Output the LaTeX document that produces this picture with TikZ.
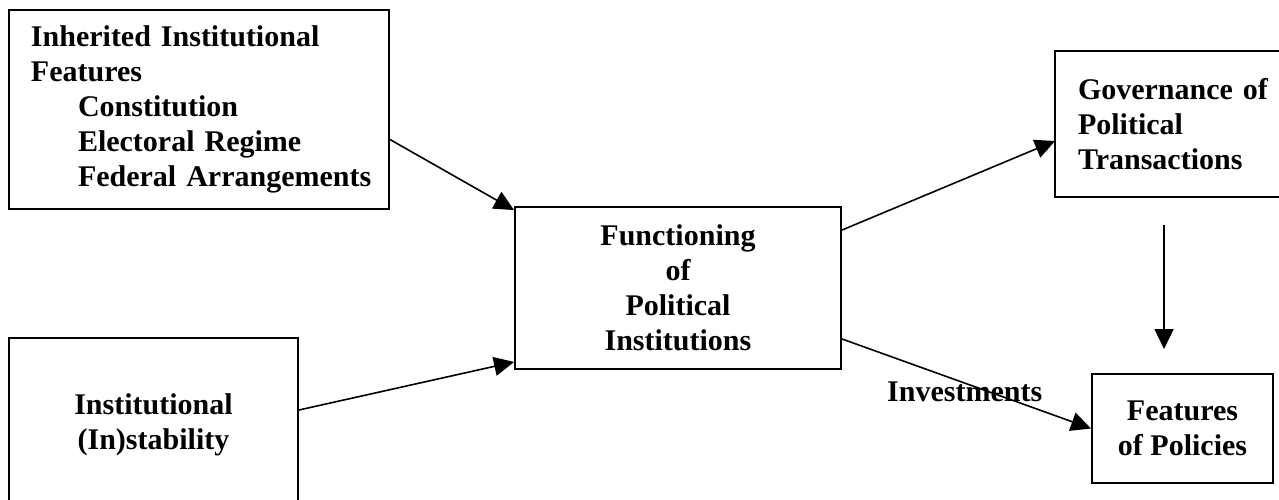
\documentclass[tikz,border=0pt]{standalone}
\usepackage{fontspec}
\setmainfont{Liberation Serif}
\usetikzlibrary{arrows.meta,calc}
\tikzset{
  box/.style={draw=black, line width=1.9pt, rectangle, inner sep=0pt,
    font=\bfseries\fontsize{30}{35}\selectfont},
  conn/.style={line width=1.6pt, -{Triangle[length=20pt,width=19pt]}},
  lbl/.style={font=\bfseries\fontsize{30}{35}\selectfont, inner sep=0pt}
}
\begin{document}
\begin{tikzpicture}[x=1pt,y=-1pt]
\clip (0,0) rectangle (1279,499);
\fill[white] (0,0) rectangle (1279,499);
% boxes
\node[box, minimum width=380pt, minimum height=199pt, text width=346pt, align=left]
  (A) at (199,109.5) {\hspace*{5pt}Inherited Institutional\\\hspace*{5pt}Features\\
  \hspace*{52pt}Constitution\\\hspace*{52pt}Electoral Regime\\\hspace*{52pt}Federal Arrangements};
\node[box, minimum width=289pt, minimum height=174pt, align=center]
  (B) at (153.5,425) {Institutional\\(In)stability};
\node[box, minimum width=326pt, minimum height=162pt, align=center]
  (C) at (678,288) {Functioning\\of\\Political\\Institutions};
\node[box, draw=none, minimum width=244pt, minimum height=144pt, text width=200pt, align=left]
  (D) at (1178,124) {\makebox[196pt][s]{Governance\ of}\\Political\\Transactions};
\draw[line width=1.9pt] (D.north east) -- (D.north west) -- (D.south west) -- (D.south east);
\node[box, minimum width=181pt, minimum height=109pt, align=center]
  (E) at (1182.5,428.5) {Features\\of Policies};
% connectors
\draw[conn] ($(A.east)+(0,30)$) -- ($(C.north west)+(0,4)$);
\draw[conn] ($(B.east)+(0,-15)$) -- ($(C.south west)+(0,-8)$);
\draw[conn] ($(C.north east)+(0,24)$) -- ($(D.west)+(0,17)$);
\draw[conn] ($(C.south east)+(0,-31)$) -- (E.west);
\draw[conn] ($(D.south west)+(109,28)$) -- ($(E.north west)+(73,-24)$);
% label
\node[lbl, anchor=base west] (inv) at (887,401) {Investments};
\end{tikzpicture}
\end{document}
